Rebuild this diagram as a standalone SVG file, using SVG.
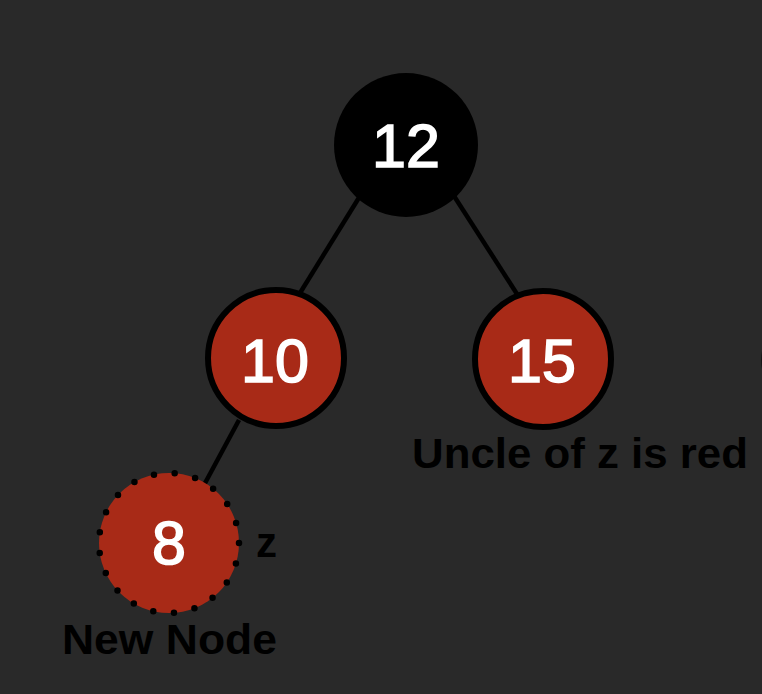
<svg xmlns="http://www.w3.org/2000/svg" width="762" height="694" viewBox="0 0 762 694">
  <style>
    .edge { stroke: #000; stroke-width: 4.5; fill: none; stroke-linecap: butt; }
    .red { fill: #A82A17; stroke: #000; stroke-width: 6; }
    .num { font-family: "Liberation Sans", Arial, sans-serif; font-size: 61px; fill: #fff; stroke: #fff; stroke-width: 1.6; text-anchor: middle; }
    .lbl { font-family: "Liberation Sans", Arial, sans-serif; font-weight: bold; font-size: 42px; fill: #000; }
  </style>
  <rect x="0" y="0" width="762" height="694" fill="#292929"/>
  <g id="connectors">
    <line class="edge" x1="360" y1="196" x2="300" y2="293"/>
    <line class="edge" x1="454" y1="196" x2="517" y2="294"/>
    <line class="edge" x1="239" y1="420" x2="204" y2="485"/>
  </g>
  <g id="node-12">
    <circle cx="406" cy="145" r="72" fill="#000"/>
    <text class="num" x="406" y="167">12</text>
  </g>
  <g id="node-10">
    <circle class="red" cx="276" cy="358" r="68"/>
    <text class="num" x="275" y="382">10</text>
  </g>
  <g id="node-15">
    <circle class="red" cx="543" cy="359" r="68"/>
    <text class="num" x="542" y="382">15</text>
    <text class="lbl" x="412" y="468" textLength="336" lengthAdjust="spacingAndGlyphs">Uncle of z is red</text>
  </g>
  <g id="node-8">
    <circle cx="169" cy="543" r="70" fill="#A82A17"/>
    <circle cx="169" cy="543" r="70" fill="none" stroke="#000" stroke-width="6.5" stroke-linecap="round" stroke-dasharray="0 20.944"/>
    <text class="num" x="169" y="564">8</text>
    <text class="lbl" x="256" y="557" font-size="40">z</text>
    <text class="lbl" x="62" y="654" textLength="215" lengthAdjust="spacingAndGlyphs">New Node</text>
  </g>
  <g id="edge-fragment">
    <circle cx="834" cy="360" r="70" fill="none" stroke="#000" stroke-width="5"/>
  </g>
</svg>
